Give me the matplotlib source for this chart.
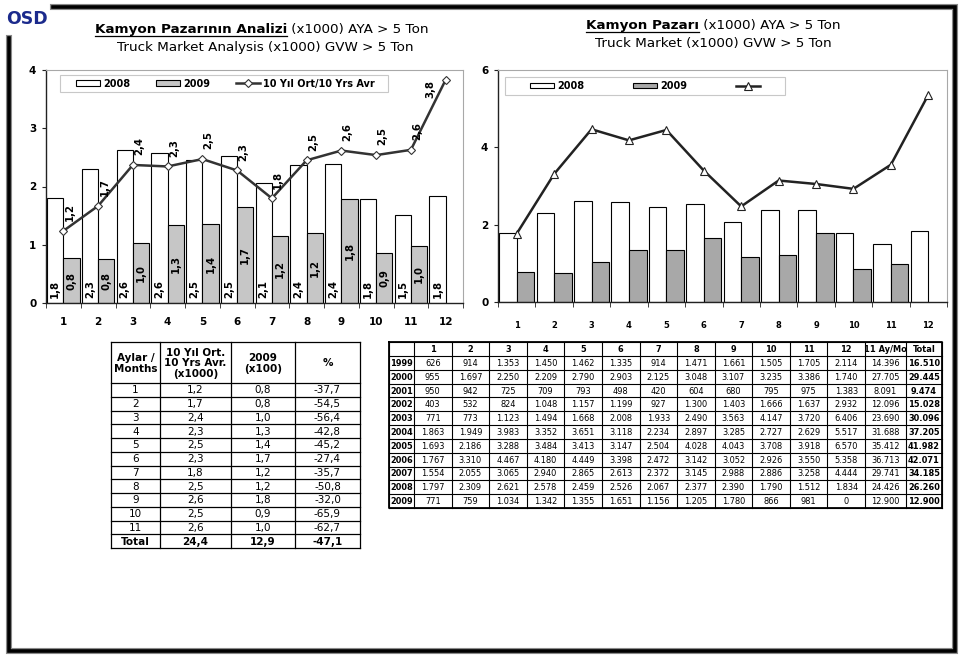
import numpy as np
import matplotlib
matplotlib.use("Agg")
import matplotlib.pyplot as plt
from matplotlib import font_manager as fm
from matplotlib.patches import Rectangle

W, H = 959, 656

plt.rcParams.update({
    "font.family": "DejaVu Sans",
    "font.size": 8,
    "axes.linewidth": 0.8,
})

# ---------------------------------------------------------------
# data (units: trucks; table shows thousands with '.' separator)
# ---------------------------------------------------------------
months = [1, 2, 3, 4, 5, 6, 7, 8, 9, 10, 11, 12]
years = [1999, 2000, 2001, 2002, 2003, 2004, 2005, 2006, 2007, 2008, 2009]

y1999 = [626, 914, 1353, 1450, 1462, 1335, 914, 1471, 1661, 1505, 1705, 2114]
y2000 = [955, 1697, 2250, 2209, 2790, 2903, 2125, 3048, 3107, 3235, 3386, 1740]
y2001 = [950, 942, 725, 709, 793, 498, 420, 604, 680, 795, 975, 1383]
y2002 = [403, 532, 824, 1048, 1157, 1199, 927, 1300, 1403, 1666, 1637, 2932]
y2003 = [771, 773, 1123, 1494, 1668, 2008, 1933, 2490, 3563, 4147, 3720, 6406]
y2004 = [1863, 1949, 3983, 3352, 3651, 3118, 2234, 2897, 3285, 2727, 2629, 5517]
y2005 = [1693, 2186, 3288, 3484, 3413, 3147, 2504, 4028, 4043, 3708, 3918, 6570]
y2006 = [1767, 3310, 4467, 4180, 4449, 3398, 2472, 3142, 3052, 2926, 3550, 5358]
y2007 = [1554, 2055, 3065, 2940, 2865, 2613, 2372, 3145, 2988, 2886, 3258, 4444]
y2008 = [1797, 2309, 2621, 2578, 2459, 2526, 2067, 2377, 2390, 1790, 1512, 1834]
y2009 = [771, 759, 1034, 1342, 1355, 1651, 1156, 1205, 1780, 866, 981, 0]
ytd_11 = [14396, 27705, 8091, 12096, 23690, 31688, 35412, 36713, 29741, 24426, 12900]
totals = [16510, 29445, 9474, 15028, 30096, 37205, 41982, 42071, 34185, 26260, 12900]

# 10 year monthly average (x1000)
avg_10yr = [1.238, 1.667, 2.370, 2.344, 2.471, 2.275, 1.797, 2.450, 2.617, 2.539, 2.629, 3.830]

# summary table on the left
tbl_months = ["1", "2", "3", "4", "5", "6", "7", "8", "9", "10", "11"]
tbl_avg = [1.2, 1.7, 2.4, 2.3, 2.5, 2.3, 1.8, 2.5, 2.6, 2.5, 2.6]
tbl_2009 = [0.8, 0.8, 1.0, 1.3, 1.4, 1.7, 1.2, 1.2, 1.8, 0.9, 1.0]
tbl_pct = [-37.7, -54.5, -56.4, -42.8, -45.2, -27.4, -35.7, -50.8, -32.0, -65.9, -62.7]
tbl_total = [24.4, 12.9, -47.1]


def c1(v):
    return f"{v:.1f}".replace(".", ",")


def thou(v):
    return f"{v:,}".replace(",", ".")


# narrow font for the yearly table, if one is around
installed = {f.name for f in fm.fontManager.ttflist}
if "Liberation Sans Narrow" in installed:
    narrow, nstretch, nsize = "Liberation Sans Narrow", "normal", 7.2
elif any(f.name == "DejaVu Sans" and f.stretch == "condensed" for f in fm.fontManager.ttflist):
    narrow, nstretch, nsize = "DejaVu Sans", "condensed", 6.6
else:
    narrow, nstretch, nsize = "DejaVu Sans", "normal", 6.0

fig = plt.figure(figsize=(W / 100, H / 100), dpi=100)

# background axes in pixel units for frame, titles and tables
bg = fig.add_axes([0, 0, 1, 1])
bg.set_xlim(0, W)
bg.set_ylim(H, 0)
bg.axis("off")

# frame
fx = [8.5, 8.5, 954.5, 954.5, 53]
fy = [38, 650.5, 650.5, 6.5, 6.5]
bg.plot(fx, fy, color="#8a8a8a", lw=4.4, solid_joinstyle="miter")
bg.plot(fx, fy, color="black", lw=2.6, solid_joinstyle="miter")

# logo
bg.text(27, 19, "OSD", fontsize=12.5, fontweight="bold", color="#1b2a8c",
        ha="center", va="center")


def two_part_title(xc, y, bold, rest, size=9.7):
    t1 = bg.text(0, y, bold, fontsize=size, fontweight="bold", ha="left", va="center")
    t2 = bg.text(0, y, rest, fontsize=size, ha="left", va="center")
    fig.canvas.draw()
    r = fig.canvas.get_renderer()
    w1 = t1.get_window_extent(r).width
    w2 = t2.get_window_extent(r).width
    x0 = xc - (w1 + w2) / 2
    t1.set_x(x0)
    t2.set_x(x0 + w1)
    bg.plot([x0, x0 + w1], [y + 6.3, y + 6.3], color="black", lw=0.9)


two_part_title(262, 30, "Kamyon Pazarının Analizi", " (x1000) AYA > 5 Ton")
bg.text(265, 47, "Truck Market Analysis (x1000) GVW > 5 Ton", fontsize=9.7,
        ha="center", va="center")
two_part_title(713, 26, "Kamyon Pazarı", " (x1000) AYA > 5 Ton")
bg.text(713, 44, "Truck Market (x1000) GVW > 5 Ton", fontsize=9.7,
        ha="center", va="center")

x = np.array(months)
w = 0.47
s2008 = [v / 1000 for v in y2008]
s2009 = [v / 1000 for v in y2009[:11]]
s2006 = [v / 1000 for v in y2006]


def style_axes(ax):
    for side in ("top", "right"):
        ax.spines[side].set_color("#a8a8a8")
    for side in ("left", "bottom"):
        ax.spines[side].set_color("#222222")
        ax.spines[side].set_linewidth(1.0)
    ax.set_xlim(0.5, 12.5)
    ax.set_xticks(np.arange(0.5, 13, 1), minor=True)
    ax.tick_params(axis="x", which="major", length=0)
    ax.tick_params(axis="x", which="minor", length=3.5, color="#222222")
    ax.tick_params(axis="y", length=3, color="#222222", pad=4)


def boxed_legend(ax, handles, labels, frame, anchor):
    # legend frame drawn separately so the entries can sit inside it with padding
    ax.add_patch(Rectangle(frame[:2], frame[2], frame[3], transform=ax.transAxes,
                           facecolor="white", edgecolor="#c8c8c8", lw=0.8, zorder=4))
    ax.legend(handles, labels, loc="center left", bbox_to_anchor=anchor,
              mode="expand", ncol=3, frameon=False, borderaxespad=0, borderpad=0,
              handlelength=2.5, handleheight=0.55, handletextpad=0.3,
              prop={"weight": "bold", "size": 7})


# ---------------------------------------------------------------
# left chart
# ---------------------------------------------------------------
ax1 = fig.add_axes([46 / W, 1 - 303 / H, 417 / W, 233 / H])
b1 = ax1.bar(x - w / 2, s2008, w, color="white", edgecolor="black", lw=0.8)
b2 = ax1.bar(x[:11] + w / 2, s2009, w, color="#c6c6c6", edgecolor="black", lw=0.8)
ln1, = ax1.plot(x, avg_10yr, color="#333333", lw=1.8, marker="D", ms=4.2,
                mfc="white", mec="#333333", mew=0.8)
style_axes(ax1)
ax1.set_ylim(0, 4)
ax1.set_yticks([0, 1, 2, 3, 4], ["0", "1", "2", "3", "4"], fontweight="bold", fontsize=7.5)
ax1.set_xticks(x, [str(m) for m in months], fontweight="bold", fontsize=7.5)
ax1.tick_params(axis="x", which="major", pad=10)

lab = dict(rotation=90, fontsize=7.3, fontweight="bold", ha="center")
for xi, v in zip(x, s2008):
    ax1.annotate(c1(v), (xi - w / 2, 0), xytext=(0, 3.5), textcoords="offset points",
                 va="bottom", **lab)
for xi, v in zip(x[:11], s2009):
    ax1.text(xi + w / 2, v / 2, c1(v), va="center", **lab)
for i, (xi, v) in enumerate(zip(x, avg_10yr)):
    if i == len(x) - 1:
        ax1.annotate(c1(v), (xi, v), xytext=(-11, 0), textcoords="offset points",
                     va="top", **lab)
    else:
        ax1.annotate(c1(v), (xi, v), xytext=(4.5, 7), textcoords="offset points",
                     va="bottom", **lab)

boxed_legend(ax1, [b1, b2, ln1], ["2008", "2009", "10 Yıl Ort/10 Yrs Avr"],
             (0.0336, 0.9056, 0.7866, 0.073), (0.072, 0.942, 0.717, 0))

# ---------------------------------------------------------------
# right chart
# ---------------------------------------------------------------
ax2 = fig.add_axes([498 / W, 1 - 302 / H, 449 / W, 232 / H])
r1 = ax2.bar(x - w / 2, s2008, w, color="white", edgecolor="black", lw=0.8)
r2 = ax2.bar(x[:11] + w / 2, s2009, w, color="#a8a8a8", edgecolor="black", lw=0.8)
ln2, = ax2.plot(x, s2006, color="#222222", lw=1.8, marker="^", ms=5.5,
                mfc="white", mec="#222222", mew=0.8)
style_axes(ax2)
ax2.set_ylim(0, 6)
ax2.set_yticks([0, 2, 4, 6], ["0", "2", "4", "6"], fontweight="bold", fontsize=7.5)
ax2.set_xticks(x, [str(m) for m in months], fontweight="bold", fontsize=6)
ax2.tick_params(axis="x", which="major", pad=14)
boxed_legend(ax2, [r1, r2, ln2], ["2008", "2009", ""],
             (0.0156, 0.892, 0.6236, 0.0776), (0.0713, 0.931, 0.519, 0))

# ---------------------------------------------------------------
# left summary table
# ---------------------------------------------------------------
lc = [111, 160, 231, 295, 360]
ltop, lhead = 342, 383
lrh = (548 - lhead) / 12
lbot = lhead + 12 * lrh
for cx in lc:
    bg.plot([cx, cx], [ltop, lbot], color="black", lw=0.9)
for k in range(13):
    yy = lhead + k * lrh
    bg.plot([lc[0], lc[-1]], [yy, yy], color="black", lw=0.9)
bg.plot([lc[0], lc[-1]], [ltop, ltop], color="black", lw=0.9)

heads = ["Aylar /\nMonths", "10 Yıl Ort.\n10 Yrs Avr.\n(x1000)", "2009\n(x100)", "%"]
for j, htxt in enumerate(heads):
    bg.text((lc[j] + lc[j + 1]) / 2, (ltop + lhead) / 2 + 1, htxt, fontsize=7.5,
            fontweight="bold", ha="center", va="center", linespacing=1.05)
for i in range(11):
    yy = lhead + (i + 0.5) * lrh + 0.5
    vals = [tbl_months[i], c1(tbl_avg[i]), c1(tbl_2009[i]), c1(tbl_pct[i])]
    for j, t in enumerate(vals):
        bg.text((lc[j] + lc[j + 1]) / 2, yy, t, fontsize=7.5, ha="center", va="center")
yy = lhead + 11.5 * lrh + 0.5
for j, t in enumerate(["Total"] + [c1(v) for v in tbl_total]):
    bg.text((lc[j] + lc[j + 1]) / 2, yy, t, fontsize=7.5, fontweight="bold",
            ha="center", va="center")

# ---------------------------------------------------------------
# right yearly table
# ---------------------------------------------------------------
rows = [y1999, y2000, y2001, y2002, y2003, y2004, y2005, y2006, y2007, y2008, y2009]
mw = (865 - 414) / 12
rc = [389, 414] + [414 + mw * (k + 1) for k in range(12)] + [906, 942]
rtop, rhead, rbot = 342, 356, 508
rrh = (rbot - rhead) / 11
for cx in rc:
    bg.plot([cx, cx], [rtop, rbot], color="black", lw=0.8)
for yy in [rtop] + [rhead + k * rrh for k in range(12)]:
    bg.plot([rc[0], rc[-1]], [yy, yy], color="black", lw=0.8)
bg.plot([rc[0], rc[0], rc[-1], rc[-1], rc[0]], [rtop, rbot, rbot, rtop, rtop],
        color="black", lw=1.3)

tfont = dict(family=narrow, fontstretch=nstretch, ha="center", va="center")
hdr = [""] + [str(m) for m in months] + ["11 Ay/Mo", "Total"]
for j, t in enumerate(hdr):
    bg.text((rc[j] + rc[j + 1]) / 2, (rtop + rhead) / 2 + 0.5, t, fontsize=nsize,
            fontweight="bold", **tfont)
for i, yr in enumerate(years):
    yy = rhead + (i + 0.5) * rrh + 0.5
    cells = [str(yr)] + [thou(v) for v in rows[i]] + [thou(ytd_11[i]), thou(totals[i])]
    for j, t in enumerate(cells):
        bold = j == 0 or j == len(cells) - 1
        bg.text((rc[j] + rc[j + 1]) / 2, yy, t, fontsize=nsize,
                fontweight="bold" if bold else "normal", **tfont)

fig.savefig("out.png", dpi=100)
